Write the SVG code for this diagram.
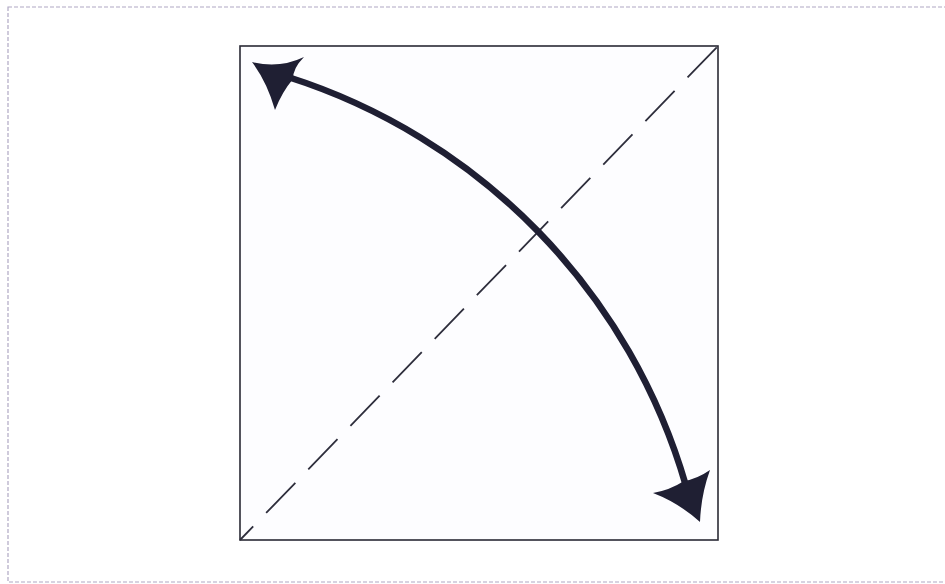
<svg xmlns="http://www.w3.org/2000/svg" width="945" height="584" viewBox="0 0 945 584">
<style>
.frame{fill:none;stroke:#b0a8c4;stroke-width:1.2;stroke-dasharray:4 2}
.square{fill:#fdfdff;stroke:#2a2a35;stroke-width:1.6}
.fold{fill:none;stroke:#2e2e3c;stroke-width:1.8;stroke-dasharray:42 18.6;stroke-dashoffset:23}
.arc{fill:none;stroke:#1f1f33;stroke-width:6.5;stroke-linecap:butt}
.head{fill:#1f1f33}
</style>
<rect width="945" height="584" fill="#ffffff"/>
<rect class="frame" x="8" y="7" width="945" height="575"/>
<g id="square">
<rect class="square" x="240" y="46" width="478" height="494"/>
</g>
<g id="connectors">
<line class="fold" x1="240" y1="540" x2="718" y2="46"/>
<path class="arc" d="M 288 77 A 605 605 0 0 1 686 486"/>
<path class="head" d="M 252 62 Q 279 69 304 57 Q 293 68 293 79 Q 282 92 275 110 Q 267 82 252 62 Z"/>
<path class="head" d="M 700 522 Q 701 495 710 470 Q 697 479 684 481 Q 670 490 653 493 Q 679 503 700 522 Z"/>
</g>
</svg>
